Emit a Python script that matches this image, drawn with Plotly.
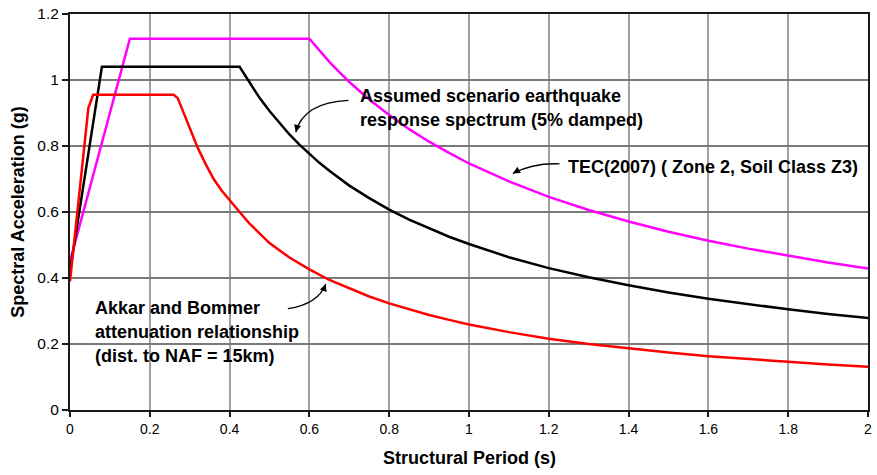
import plotly.graph_objects as go

# --- Data ---
# TEC(2007) design spectrum (Zone 2, Soil Class Z3)
tec_T = [0.0, 0.15, 0.6, 0.625, 0.65, 0.675, 0.7, 0.75, 0.8, 0.85, 0.9, 0.95, 1.0, 1.1, 1.2, 1.3,
         1.4, 1.5, 1.6, 1.7, 1.8, 1.9, 2.0]
tec_Sa = [0.45, 1.125, 1.125, 1.089, 1.055, 1.024, 0.994, 0.941, 0.894, 0.851, 0.813, 0.779,
          0.747, 0.693, 0.646, 0.606, 0.571, 0.540, 0.513, 0.489, 0.467, 0.447, 0.429]

# Assumed scenario earthquake response spectrum (5% damped)
scen_T = [0.0, 0.08, 0.425, 0.45, 0.475, 0.5, 0.525, 0.55, 0.575, 0.6, 0.625, 0.65, 0.675, 0.7,
          0.75, 0.8, 0.85, 0.9, 0.95, 1.0, 1.1, 1.2, 1.3, 1.4, 1.5, 1.6, 1.7, 1.8, 1.9, 2.0]
scen_Sa = [0.42, 1.04, 1.04, 0.991, 0.946, 0.906, 0.869, 0.835, 0.804, 0.776, 0.749, 0.725,
           0.702, 0.680, 0.642, 0.607, 0.577, 0.550, 0.525, 0.503, 0.463, 0.430, 0.402, 0.378,
           0.356, 0.337, 0.320, 0.305, 0.291, 0.279]

# Akkar and Bommer attenuation relationship
ab_T = [0.0, 0.046, 0.058, 0.26, 0.27, 0.28, 0.29, 0.30, 0.32, 0.34, 0.36, 0.38, 0.40, 0.425,
        0.45, 0.475, 0.5, 0.55, 0.6, 0.65, 0.7, 0.75, 0.8, 0.85, 0.9, 0.95, 1.0, 1.1, 1.2, 1.3,
        1.4, 1.5, 1.6, 1.7, 1.8, 1.9, 2.0]
ab_Sa = [0.39, 0.915, 0.955, 0.955, 0.945, 0.915, 0.885, 0.855, 0.795, 0.745, 0.70, 0.665,
         0.635, 0.60, 0.565, 0.534, 0.506, 0.462, 0.426, 0.394, 0.368, 0.344, 0.323, 0.305,
         0.288, 0.273, 0.259, 0.236, 0.216, 0.200, 0.186, 0.174, 0.163, 0.154, 0.145, 0.138,
         0.131]

x_title = "Structural Period (s)"
y_title = "Spectral Acceleration (g)"

FONT = "Liberation Sans, Arial, sans-serif"

fig = go.Figure()
fig.add_trace(go.Scatter(x=tec_T, y=tec_Sa, mode="lines", line=dict(color="#FF00FF", width=2.5),
                         name="TEC(2007)", hoverinfo="skip"))
fig.add_trace(go.Scatter(x=scen_T, y=scen_Sa, mode="lines", line=dict(color="#000000", width=2.5),
                         name="Scenario", hoverinfo="skip"))
fig.add_trace(go.Scatter(x=ab_T, y=ab_Sa, mode="lines", line=dict(color="#FF0000", width=2.5),
                         name="Akkar and Bommer", hoverinfo="skip"))

# curved arrow bodies (quadratic Bezier paths)
arrows = [
    # start, control, end (data coords), tail offset for head (pixels)
    ((0.698, 0.938), (0.586, 0.932), (0.566, 0.842), (2, -8)),
    ((1.227, 0.746), (1.160, 0.749), (1.110, 0.717), (7, -4)),
    ((0.546, 0.307), (0.623, 0.322), (0.641, 0.382), (-3, 8)),
]
shapes = []
annotations = []
for (s, c, e, off) in arrows:
    shapes.append(dict(type="path", xref="x", yref="y",
                       path=f"M {s[0]},{s[1]} Q {c[0]},{c[1]} {e[0]},{e[1]}",
                       line=dict(color="#000000", width=1.3)))
    annotations.append(dict(x=e[0], y=e[1], xref="x", yref="y", ax=off[0], ay=off[1],
                            axref="pixel", ayref="pixel", text="", showarrow=True,
                            arrowhead=2, arrowsize=1.1, arrowwidth=1.3, arrowcolor="#000000"))

labels = [
    ("Assumed scenario earthquake", 0.723, 0.953),
    ("response spectrum (5% damped)", 0.723, 0.878),
    ("TEC(2007) ( Zone 2, Soil Class Z3)", 1.242, 0.737),
    ("Akkar and Bommer", 0.058, 0.310),
    ("attenuation relationship", 0.058, 0.235),
    ("(dist. to NAF = 15km)", 0.058, 0.165),
]
for txt, lx, ly in labels:
    annotations.append(dict(x=lx, y=ly, xref="x", yref="y", text=f"<b>{txt}</b>", showarrow=False,
                            xanchor="left", yanchor="middle",
                            font=dict(family=FONT, size=18, color="#000000")))

# axis titles
annotations.append(dict(x=0.5, y=-0.1215, xref="paper", yref="paper", text=f"<b>{x_title}</b>",
                        showarrow=False, xanchor="center", yanchor="middle",
                        font=dict(family=FONT, size=18, color="#000000")))
annotations.append(dict(x=-0.0655, y=0.5, xref="paper", yref="paper", text=f"<b>{y_title}</b>",
                        showarrow=False, xanchor="center", yanchor="middle", textangle=-90,
                        font=dict(family=FONT, size=18, color="#000000")))

fig.update_layout(
    width=877, height=475,
    margin=dict(l=70, r=5, t=11, b=65),
    paper_bgcolor="white", plot_bgcolor="white",
    showlegend=False,
    font=dict(family=FONT, color="#000000"),
    shapes=shapes,
    annotations=annotations,
    xaxis=dict(range=[0, 2], dtick=0.2, tick0=0, showgrid=True, gridcolor="#A0A0A0", gridwidth=1.5,
               showline=True, linecolor="#1a1a1a", linewidth=2, mirror=True,
               ticks="outside", ticklen=5, tickcolor="#1a1a1a", tickwidth=1.5,
               tickfont=dict(family=FONT, size=14, color="#000000"), zeroline=False,
               fixedrange=True),
    yaxis=dict(range=[0, 1.2], dtick=0.2, tick0=0, showgrid=True, gridcolor="#7A7A7A", gridwidth=2,
               showline=True, linecolor="#1a1a1a", linewidth=2, mirror=True,
               ticks="outside", ticklen=6, tickcolor="#1a1a1a", tickwidth=1.5,
               tickfont=dict(family=FONT, size=15.5, color="#000000"), zeroline=False,
               fixedrange=True),
)

fig.write_html("out.html")
